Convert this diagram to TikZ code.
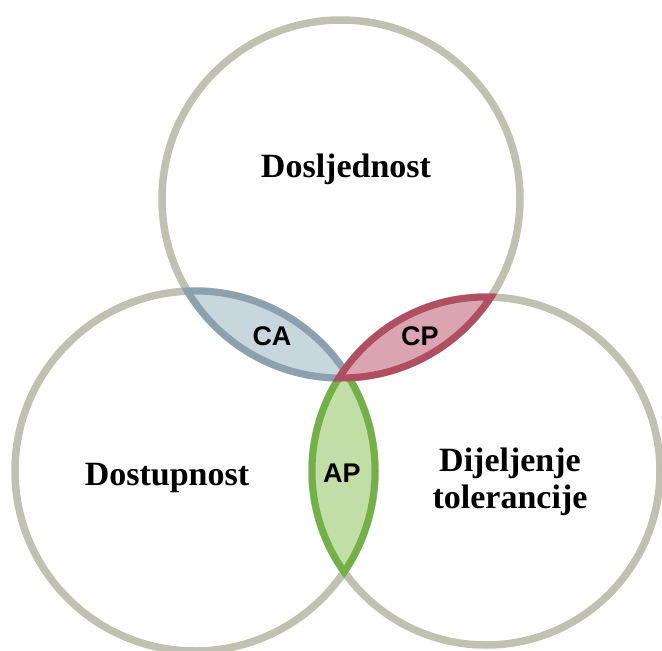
\documentclass[tikz,border=0pt]{standalone}
\usepackage{fontspec}
\setmainfont{Liberation Serif}
\setsansfont{Liberation Sans}
\definecolor{ring}{RGB}{193,193,178}
\definecolor{castroke}{RGB}{140,160,174}
\definecolor{cafill}{RGB}{200,214,222}
\definecolor{cpstroke}{RGB}{176,78,98}
\definecolor{cpfill}{RGB}{218,165,176}
\definecolor{apstroke}{RGB}{116,176,72}
\definecolor{apfill}{RGB}{192,222,165}
\tikzset{
  ringline/.style={draw=ring, line width=7.5pt},
  lensline/.style={line width=7pt},
  bigtext/.style={font=\bfseries\fontsize{34}{37}\selectfont, align=center, inner sep=0pt},
  lenstext/.style={font=\sffamily\bfseries\fontsize{27}{30}\selectfont, inner sep=0pt}
}
\def\rT{179}
\def\rL{180}
\def\rR{174}
\begin{document}
\begin{tikzpicture}[x=1pt,y=-1pt]
\useasboundingbox (0,0) rectangle (662,651);
% circle centres
\coordinate (T) at (341,199);
\coordinate (L) at (195,471);
\coordinate (R) at (486,471);
\draw[ringline] (T) circle[radius=\rT];
\draw[ringline] (L) circle[radius=\rL];
\draw[ringline] (R) circle[radius=\rR];
% CA lens (top and left)
\begin{scope}\clip (T) circle[radius=\rT]; \fill[cafill] (L) circle[radius=\rL];\end{scope}
\begin{scope}\clip (T) circle[radius=\rT+3.5]; \draw[lensline, castroke] (L) circle[radius=\rL];\end{scope}
\begin{scope}\clip (L) circle[radius=\rL+3.5]; \draw[lensline, castroke] (T) circle[radius=\rT];\end{scope}
% AP lens (left and right)
\begin{scope}\clip (L) circle[radius=\rL]; \fill[apfill] (R) circle[radius=\rR];\end{scope}
\begin{scope}\clip (L) circle[radius=\rL+3.5]; \draw[lensline, apstroke] (R) circle[radius=\rR];\end{scope}
\begin{scope}\clip (R) circle[radius=\rR+3.5]; \draw[lensline, apstroke] (L) circle[radius=\rL];\end{scope}
% CP lens (top and right)
\begin{scope}\clip (T) circle[radius=\rT]; \fill[cpfill] (R) circle[radius=\rR];\end{scope}
\begin{scope}\clip (T) circle[radius=\rT+3.5]; \draw[lensline, cpstroke] (R) circle[radius=\rR];\end{scope}
\begin{scope}\clip (R) circle[radius=\rR+3.5]; \draw[lensline, cpstroke] (T) circle[radius=\rT];\end{scope}
% texts
\node[bigtext] (dos) at (346,169) {Dosljednost};
\node[bigtext] (dost) at (167,478) {Dostupnost};
\node[bigtext] (dij) at (510,482) {Dijeljenje\\tolerancije};
\node[lenstext] (ca) at (272,336) {CA};
\node[lenstext] (cp) at (420,336) {CP};
\node[lenstext] (ap) at (342,473) {AP};
\end{tikzpicture}
\end{document}
